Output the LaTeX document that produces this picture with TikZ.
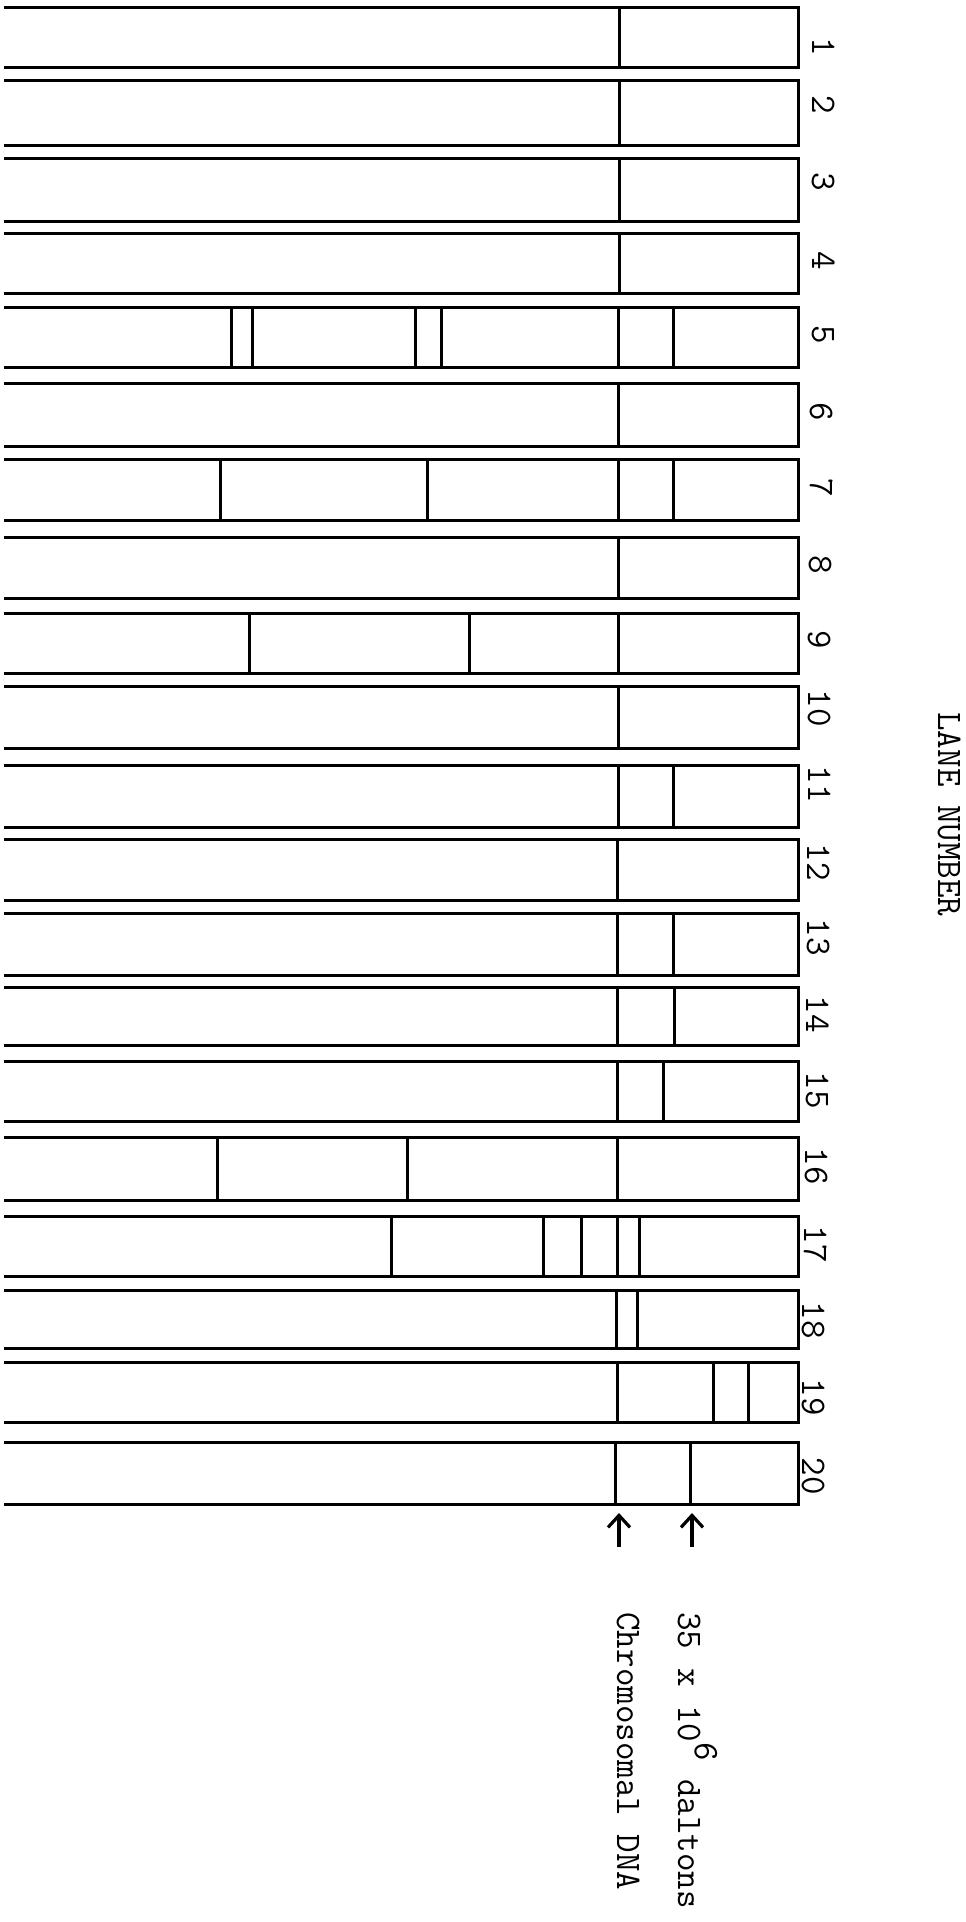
\documentclass[tikz,border=0pt]{standalone}
\usepackage{fontspec}
\usetikzlibrary{arrows.meta}
\tikzset{
  lane/.style={line width=1.5pt, line join=miter, line cap=rect},
  band/.style={line width=1.5pt},
  lbl/.style={font=\ttfamily\fontsize{18}{20}\selectfont, inner sep=0pt, rotate=-90},
  arr/.style={line width=2pt, -{Straight Barb[length=6pt, width=11pt, line width=1.6pt]}}
}
\begin{document}
\begin{tikzpicture}[x=0.5pt, y=-0.5pt]
\useasboundingbox (0,0) rectangle (965,1922);
\foreach \n/\t/\b/\nx/\ny/\bands in {
  1/7/67/812/47/{619},
  2/80/145/812/105/{619},
  3/158/221/812/182/{619},
  4/233/293/812/261/{619},
  5/307/367/812/335/{231,252,415,441,618,673},
  6/383/446/810/412/{618},
  7/459/520/810/488/{220,427,618,673},
  8/537/598/809/565/{618},
  9/613/673/808/640/{249,469,618},
  10/686/748/808/708/{618},
  11/765/827/808/784/{618,673},
  12/839/900/807/862/{617},
  13/913/975/807/937/{617,673},
  14/987/1045/806/1014/{617,674},
  15/1061/1121/806/1090/{617,663},
  16/1137/1200/805/1166/{217,407,617},
  17/1216/1276/804/1244/{391,543,581,617,639},
  18/1290/1348/802/1320/{616,637},
  19/1362/1422/802/1397/{617,713,748},
  20/1442/1504/802/1476/{615,690}} {
  \draw[lane] (5,\t) -- (798,\t) -- (798,\b) -- (5,\b);
  \foreach \x in \bands { \draw[band] (\x,\t) -- (\x,\b); }
  \node[lbl, anchor=base] (n\n) at (\nx,\ny) {\n};
}
\node[lbl, anchor=base west] (title) at (938,712) {LANE NUMBER};
\coordinate (chrtip) at (619,1513);
\coordinate (chrtail) at (619,1547);
\coordinate (daltip) at (692,1513);
\coordinate (daltail) at (692,1547);
\draw[arr] (chrtail) -- (chrtip);
\draw[arr] (daltail) -- (daltip);
\node[lbl, anchor=base west] (dal) at (678,1612) {35 x 10\raisebox{0.47em}{6} daltons};
\node[lbl, anchor=base west] (chr) at (617,1612) {Chromosomal DNA};
\end{tikzpicture}
\end{document}
